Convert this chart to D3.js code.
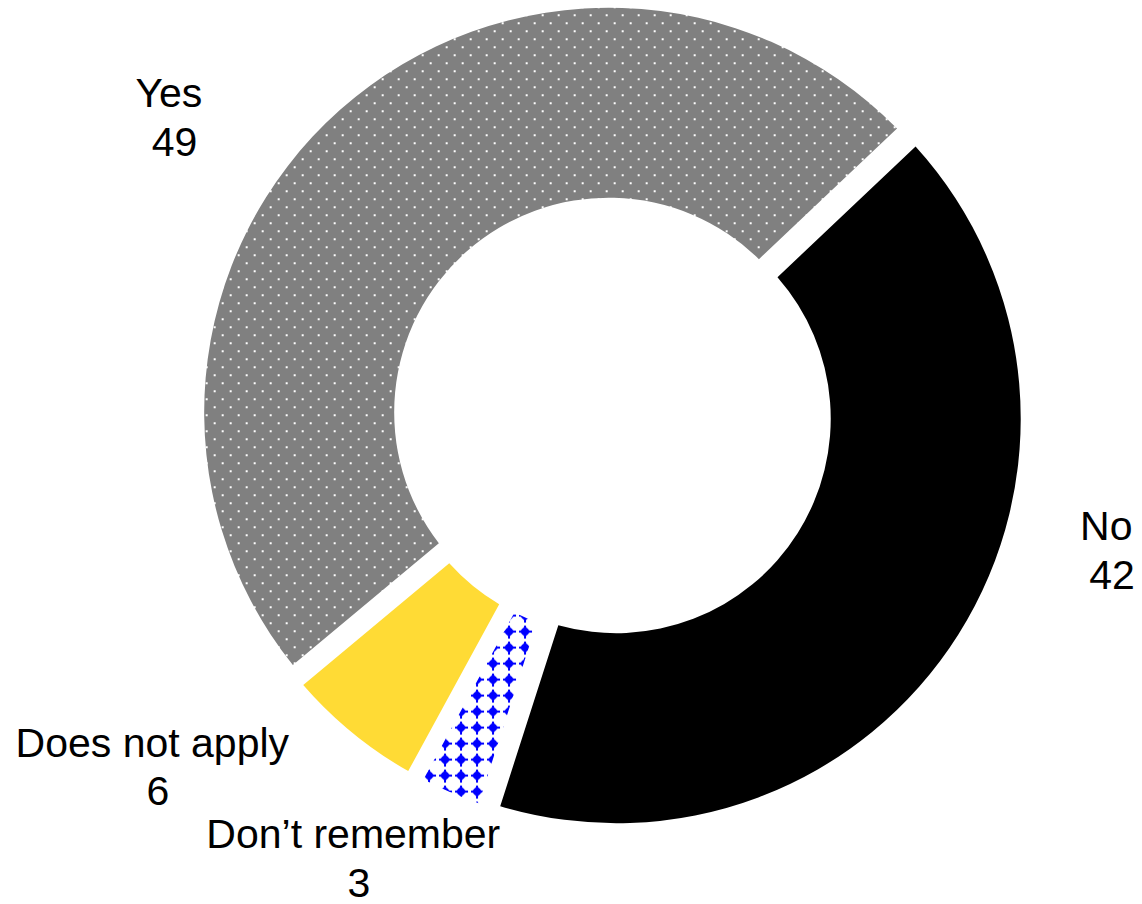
<!DOCTYPE html>
<html>
<head>
<meta charset="utf-8">
<script src="https://cdn.jsdelivr.net/npm/d3@7"></script>
<style>
  html, body { margin: 0; padding: 0; background: #fff; }
  svg { display: block; }
  text { font-family: "Liberation Sans", Arial, sans-serif; fill: #000; }
</style>
</head>
<body>
<svg id="chart" width="1142" height="904"></svg>
<script>
// Survey answers, in clockwise drawing order
const categories = ["Yes", "No", "Don\u2019t remember", "Does not apply"];
const values = [49, 42, 3, 6];
const valueLabels = ["49", "42", "3", "6"];

// Fill for each answer (pattern ids defined below)
const fills = ["url(#dots)", "#000000", "url(#blueDiamonds)", "#FFDB35"];

// Label anchors (centre x, first-line baseline y)
const labelPos = [
  [174.6, 107],
  [1112, 540],
  [359, 848],
  [158, 756.5]
];

const width = 1142, height = 904;
const cx = 612, cy = 416;
const outerR = 404.5, innerR = 214.5;
const gap = 16;       // white gap between slices, px
const explode = 5;    // outward shift of each slice, px
const startDeg = -129.8;
const lineGap = 48.5;
const fontSize = 41;
// name line sits half a space-width left of the value line
const nameShift = -0.278 * fontSize / 2;

const svg = d3.select("#chart");
const defs = svg.append("defs");

// Grey with white dots on a staggered 16px grid
const dots = defs.append("pattern")
  .attr("id", "dots")
  .attr("patternUnits", "userSpaceOnUse")
  .attr("width", 16).attr("height", 16);
dots.append("rect").attr("width", 16).attr("height", 16).attr("fill", "#808080");
dots.selectAll("rect.d").data([[13, 2], [5, 10]]).join("rect")
  .attr("class", "d")
  .attr("x", d => d[0]).attr("y", d => d[1])
  .attr("width", 2).attr("height", 2)
  .attr("fill", "#ffffff")
  .attr("shape-rendering", "crispEdges");

// Blue four-pointed diamonds on white
const diam = defs.append("pattern")
  .attr("id", "blueDiamonds")
  .attr("patternUnits", "userSpaceOnUse")
  .attr("x", 3).attr("y", 11)
  .attr("width", 16).attr("height", 16);
diam.append("rect").attr("width", 16).attr("height", 16).attr("fill", "#ffffff");
const c = 8;
diam.append("path")
  .attr("d", `M${c},${c - 5.5} L${c + 5.5},${c} L${c},${c + 5.5} L${c - 5.5},${c} Z`)
  .attr("fill", "#0000FF");
diam.append("rect").attr("x", c - 3).attr("y", c - 3).attr("width", 6).attr("height", 6)
  .attr("fill", "#0000FF").attr("shape-rendering", "crispEdges");
diam.append("rect").attr("x", c - 1).attr("y", c - 6.5).attr("width", 2).attr("height", 13)
  .attr("fill", "#0000FF").attr("shape-rendering", "crispEdges");
diam.append("rect").attr("x", c - 6.5).attr("y", c - 1).attr("width", 13).attr("height", 2)
  .attr("fill", "#0000FF").attr("shape-rendering", "crispEdges");

const start = startDeg * Math.PI / 180;
const pie = d3.pie()
  .sort(null)
  .value(d => d)
  .startAngle(start)
  .endAngle(start + 2 * Math.PI);

const arc = d3.arc()
  .innerRadius(innerR)
  .outerRadius(outerR)
  .padRadius(outerR)
  .padAngle(gap / outerR);

const arcs = pie(values);

const g = svg.append("g").attr("transform", `translate(${cx},${cy})`);

g.selectAll("path.slice")
  .data(arcs)
  .join("path")
  .attr("class", "slice")
  .attr("d", arc)
  .attr("fill", (d, i) => fills[i])
  .attr("transform", d => {
    const mid = (d.startAngle + d.endAngle) / 2;
    return `translate(${explode * Math.sin(mid)},${-explode * Math.cos(mid)})`;
  });

// Category name and value, two centred lines
const labels = svg.append("g").selectAll("text")
  .data(categories)
  .join("text")
  .attr("text-anchor", "middle")
  .attr("font-size", fontSize);

labels.append("tspan")
  .attr("x", (d, i) => labelPos[i][0] + nameShift)
  .attr("y", (d, i) => labelPos[i][1])
  .text(d => d);

labels.append("tspan")
  .attr("x", (d, i) => labelPos[i][0])
  .attr("y", (d, i) => labelPos[i][1] + lineGap)
  .text((d, i) => valueLabels[i]);
</script>
</body>
</html>
